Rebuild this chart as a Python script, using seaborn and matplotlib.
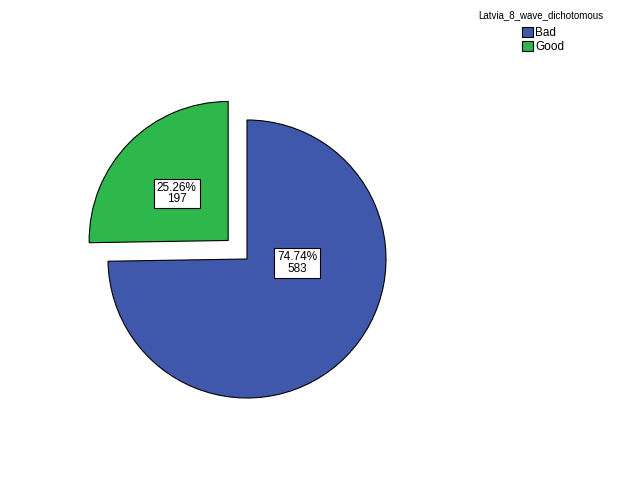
import numpy as np
import seaborn as sns
import matplotlib.pyplot as plt

# data
categories = ["Bad", "Good"]
counts = [583, 197]
colors = ["#3F58AC", "#2EB84B"]
legend_title = "Latvia_8_wave_dichotomous"

sns.set_theme(style="white")
plt.rcParams['font.family'] = ['Liberation Sans', 'DejaVu Sans']
plt.rcParams['text.color'] = 'black'

fig = plt.figure(figsize=(6.26, 5.01), dpi=100)
ax = fig.add_axes([38.5 / 626, 33.5 / 501, 417 / 626, 417 / 501])

total = sum(counts)
wedges, _ = ax.pie(counts, colors=colors, startangle=90, counterclock=False,
                   explode=[0, 0.19],
                   wedgeprops=dict(edgecolor="black", linewidth=0.8))

# label boxes (SPSS style placement)
label_pos = [(0.36, -0.03), None]
for w, c, pos in zip(wedges, counts, label_pos):
    if pos is None:
        ang = np.deg2rad((w.theta1 + w.theta2) / 2)
        cx, cy = w.center
        pos = (cx + 0.52 * np.cos(ang), cy + 0.48 * np.sin(ang))
    ax.text(pos[0], pos[1], f"{c / total * 100:.2f}%\n{c}", ha="center", va="center",
            fontsize=8.5, linespacing=0.95, color="black",
            bbox=dict(boxstyle="square,pad=0.25", facecolor="white", edgecolor="black", linewidth=0.8))

ax.set_xlim(-1.5, 1.5)
ax.set_ylim(-1.5, 1.5)

fig.text(541 / 626, 1 - 15 / 501, legend_title, ha="center", va="center", fontsize=7, color="black")
handles = [plt.Rectangle((0, 0), 1, 1, facecolor=col, edgecolor="black", linewidth=0.8) for col in colors]
leg = fig.legend(handles, categories, loc="upper left",
                 bbox_to_anchor=(521 / 626, 1 - 26 / 501), frameon=False, fontsize=8.5,
                 handlelength=0.9, handleheight=0.9, handletextpad=0.2,
                 labelspacing=0.15, borderpad=0.1, borderaxespad=0)
for t in leg.get_texts():
    t.set_color("black")

fig.savefig("out.png", dpi=100)
